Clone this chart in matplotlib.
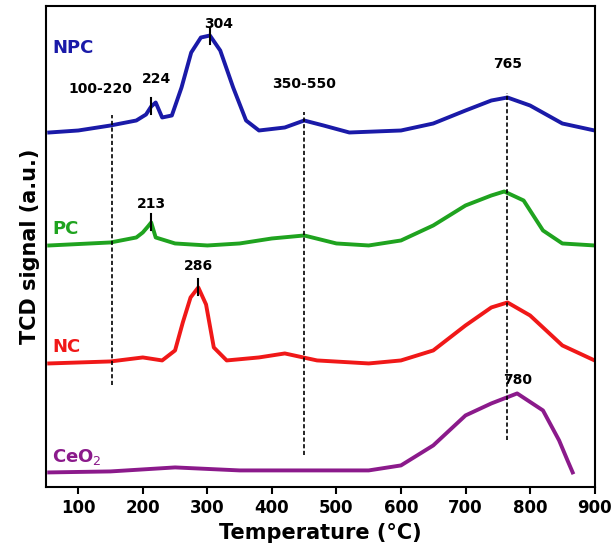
import numpy as np
import matplotlib.pyplot as plt

# Values (signal in arbitrary units, offset stacked)
npc_t = [55, 100, 150, 190, 205, 213, 220, 230, 245, 260, 275, 290, 304, 320, 340, 360, 380, 420, 450, 480, 520, 600, 650, 700, 740, 765, 800, 850, 900]
npc_y = [360, 362, 367, 372, 378, 386, 390, 375, 377, 405, 440, 455, 457, 442, 405, 372, 362, 365, 372, 367, 360, 362, 369, 382, 392, 395, 387, 369, 362]
pc_t = [55, 150, 190, 200, 208, 213, 220, 250, 300, 350, 400, 450, 500, 550, 600, 650, 700, 740, 760, 790, 820, 850, 900]
pc_y = [247, 250, 255, 260, 266, 270, 255, 249, 247, 249, 254, 257, 249, 247, 252, 267, 287, 297, 301, 292, 262, 249, 247]
nc_t = [55, 150, 200, 230, 250, 262, 274, 286, 298, 310, 330, 380, 420, 470, 550, 600, 650, 700, 740, 765, 800, 850, 900]
nc_y = [129, 131, 135, 132, 142, 170, 195, 205, 188, 145, 132, 135, 139, 132, 129, 132, 142, 167, 185, 190, 177, 147, 132]
ce_t = [55, 150, 250, 350, 450, 550, 600, 650, 700, 740, 780, 820, 845, 858, 866]
ce_y = [20, 21, 25, 22, 22, 22, 27, 47, 77, 89, 99, 82, 52, 32, 20]

names = ['NPC', 'PC', 'NC', 'CeO$_2$']
colors = ['#1a1aa8', '#1fa31f', '#f01818', '#8b1a8b']
label_pos = [(60, 440), (60, 258), (60, 140), (60, 30)]

fig, ax = plt.subplots(figsize=(6.13, 5.52), dpi=100)
fig.subplots_adjust(left=0.075, right=0.97, top=0.99, bottom=0.117)

for t, y, c in zip([npc_t, pc_t, nc_t, ce_t], [npc_y, pc_y, nc_y, ce_y], colors):
    ax.plot(t, y, color=c, lw=2.8, solid_joinstyle='round')

for (x, y), n, c in zip(label_pos, names, colors):
    ax.text(x, y, n, color=c, fontsize=13, fontweight='bold')

# dashed guides
dash = (0, (2.5, 1.5))
ax.plot([153, 153], [107, 377], color='k', ls=dash, lw=1.2)
ax.plot([450, 450], [37, 380], color='k', ls=dash, lw=1.2)
ax.plot([765, 765], [52, 400], color='k', ls=dash, lw=1.2)

# peak markers and labels
peaks = [(213, 386), (304, 457), (213, 270), (286, 205)]
for px, py in peaks:
    ax.plot([px, px], [py - 8, py + 8], 'k-', lw=1.5)
for x, y, s in [(222, 410, '224'), (318, 465, '304'), (213, 284, '213'), (286, 222, '286'),
                (135, 400, '100-220'), (450, 405, '350-550'), (765, 425, '765'), (780, 108, '780')]:
    ax.text(x, y, s, ha='center', fontsize=10, fontweight='bold')

ax.set_xlim(50, 900)
ax.set_ylim(5, 487)
ax.set_xticks(range(100, 901, 100))
ax.set_yticks([])
ax.tick_params(axis='x', labelsize=12, width=1.5, length=5)
for lbl in ax.get_xticklabels():
    lbl.set_fontweight('bold')
for s in ax.spines.values():
    s.set_linewidth(1.5)
ax.set_xlabel('Temperature (°C)', fontsize=15, fontweight='bold')
ax.set_ylabel('TCD signal (a.u.)', fontsize=15, fontweight='bold')
fig.savefig('out.png')
